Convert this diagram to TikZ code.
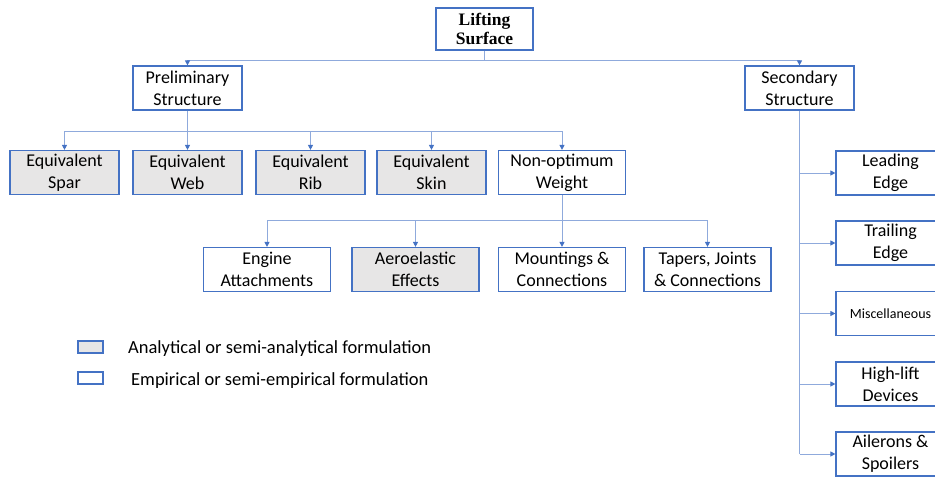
\documentclass[tikz,border=0pt]{standalone}
\usepackage{fontspec}
\setmainfont{Carlito}
\newfontfamily\liftfont{Liberation Serif}
\usetikzlibrary{arrows.meta}
\definecolor{boxblue}{HTML}{4472C4}
\definecolor{linkblue}{HTML}{8FAADC}
\definecolor{boxgray}{HTML}{E7E6E6}
\tikzset{
	box/.style={draw=boxblue, line width=1.2pt, fill=white, minimum width=109pt, minimum height=44pt, inner sep=0pt, align=center, font=\fontsize{18}{22}\selectfont},
	greybox/.style={box, fill=boxgray},
	widebox/.style={box, minimum width=127pt},
	link/.style={draw=linkblue, line width=1pt},
	arr/.style={link, -{Triangle[length=5pt,width=5pt,color=boxblue]}},
	keytext/.style={anchor=west, inner sep=0pt, font=\fontsize{18.5}{21}\selectfont},
}

\begin{document}
\begin{tikzpicture}[x=1pt,y=-1pt]
			%%%%% START %%%%%
			\useasboundingbox (0,0) rectangle (935,479);
			\clip (0,0) rectangle (935,479);
			
			\node[box, minimum width=97pt, minimum height=42pt, font=\liftfont\bfseries\fontsize{17.5}{19}\selectfont] (lift) at (484.5,29) {Lifting\\Surface};
			
			\node[box] (prelim) at (187.5,88) {Preliminary\\Structure};
			\node[box] (second) at (799.5,88) {Secondary\\Structure};
			
			\node[greybox] (spar) at (64.5,172.5) {Equivalent\\Spar};
			\node[greybox] (web) at (187.5,172.5) {Equivalent\\Web};
			\node[greybox] (rib) at (310.5,172.5) {Equivalent\\Rib};
			\node[greybox] (skin) at (431.5,172.5) {Equivalent\\Skin};
			\node[widebox] (nonopt) at (562,172.5) {Non-optimum\\Weight};
			
			\node[widebox] (engine) at (267,269.5) {Engine\\Attachments};
			\node[widebox, fill=boxgray] (aero) at (415.5,269.5) {Aeroelastic\\Effects};
			\node[widebox] (mount) at (562,269.5) {Mountings \&\\Connections};
			\node[widebox] (tapers) at (707.5,269.5) {Tapers, Joints\\\& Connections};
			
			\node[box] (lead) at (890.5,173) {Leading\\Edge};
			\node[box] (trail) at (890.5,243) {Trailing\\Edge};
			\node[box, font=\fontsize{14}{17}\selectfont] (misc) at (890.5,313.5) {Miscellaneous};
			\node[box] (high) at (890.5,384) {High-lift\\Devices};
			\node[box] (ail) at (890.5,454) {Ailerons \&\\Spoilers};
			
			% top level
			\coordinate (liftbus) at (484.5,60);
			\draw[link] (lift) -- (liftbus);
			\draw[arr] (liftbus) -| (prelim);
			\draw[arr] (liftbus) -| (second);
			
			% preliminary structure
			\coordinate (prelimbus) at (187.5,131);
			\draw[link] (prelim) -- (prelimbus);
			\foreach \n in {spar,web,rib,skin,nonopt}
				\draw[arr] (prelimbus) -| (\n);
			
			% non-optimum weight
			\coordinate (nonoptbus) at (562,220);
			\draw[link] (nonopt) -- (nonoptbus);
			\foreach \n in {engine,aero,mount,tapers}
				\draw[arr] (nonoptbus) -| (\n);
			
			% secondary structure
			\draw[link] (second) -- (second |- ail);
			\foreach \n in {lead,trail,misc,high,ail}
				\draw[arr] (second |- \n) -- (\n);
			
			% key
			\node[greybox, minimum width=25pt, minimum height=12pt] (keygrey) at (90.5,347) {};
			\node[box, minimum width=25pt, minimum height=12pt] (keywhite) at (90.5,378) {};
			\node[keytext] (keygreytext) at (128,349) {Analytical or semi-analytical formulation};
			\node[keytext] (keywhitetext) at (131,381) {Empirical or semi-empirical formulation};
			
			%%%%% END %%%%%
\end{tikzpicture}
\end{document}
